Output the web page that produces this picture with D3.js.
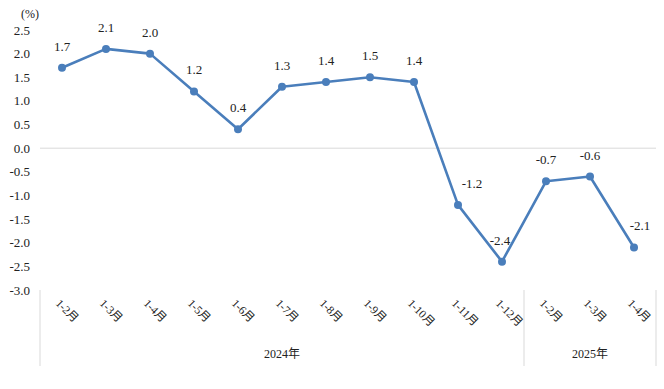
<!DOCTYPE html>
<html>
<head>
<meta charset="utf-8">
<script src="https://cdn.jsdelivr.net/npm/d3@7"></script>
<style>
  body { margin: 0; background: #fff; }
  text { font-family: "Liberation Serif", "Noto Sans CJK SC", serif; fill: #222; }
</style>
</head>
<body>
<svg id="chart" width="664" height="389"></svg>
<script>
// months (cumulative periods) and growth values
const months = ["1-2月","1-3月","1-4月","1-5月","1-6月","1-7月","1-8月","1-9月","1-10月","1-11月","1-12月","1-2月","1-3月","1-4月"]
const values = [1.7, 2.1, 2.0, 1.2, 0.4, 1.3, 1.4, 1.5, 1.4, -1.2, -2.4, -0.7, -0.6, -2.1]
const years = ["2024年", "2025年"]
const yearCounts = [11, 3]
const yTicks = [2.5, 2.0, 1.5, 1.0, 0.5, 0.0, -0.5, -1.0, -1.5, -2.0, -2.5, -3.0]

const svg = d3.select("#chart")
const plotLeft = 40, plotRight = 656, plotTop = 30, plotBottom = 290

const x = d3.scaleBand()
    .domain(d3.range(months.length))
    .range([plotLeft, plotRight])
const y = d3.scaleLinear()
    .domain([-3, 2.5])
    .range([plotBottom, plotTop])

// y labels
svg.append("g")
    .selectAll("text")
    .data(yTicks)
    .enter().append("text")
    .attr("x", 30)
    .attr("y", d => y(d) + 4.5)
    .attr("text-anchor", "end")
    .style("font-size", "13px")
    .text(d => d.toFixed(1))

svg.append("text")
    .attr("x", 21)
    .attr("y", 18)
    .style("font-size", "12px")
    .text("(%)")

// zero line
svg.append("line")
    .attr("x1", plotLeft).attr("x2", plotRight)
    .attr("y1", y(0)).attr("y2", y(0))
    .attr("stroke", "#d9d9d9")
    .attr("stroke-width", 1)

// separators for year groups
let bounds = [0]
yearCounts.forEach(c => bounds.push(bounds[bounds.length - 1] + c))
svg.append("g")
    .selectAll("line")
    .data(bounds)
    .enter().append("line")
    .attr("x1", i => i < months.length ? x(i) : plotRight)
    .attr("x2", i => i < months.length ? x(i) : plotRight)
    .attr("y1", plotBottom)
    .attr("y2", 366)
    .attr("stroke", "#d9d9d9")

// year labels
svg.append("g")
    .selectAll("text")
    .data(years)
    .enter().append("text")
    .attr("x", (d, i) => {
        const a = x(bounds[i])
        const b = bounds[i + 1] < months.length ? x(bounds[i + 1]) : plotRight
        return (a + b) / 2
    })
    .attr("y", 358)
    .attr("text-anchor", "middle")
    .style("font-size", "12px")
    .text(d => d)

// rotated month labels
svg.append("g")
    .selectAll("text")
    .data(months)
    .enter().append("text")
    .attr("transform", (d, i) => `translate(${x(i) + x.bandwidth() / 2 - 7},${plotBottom + 14}) rotate(45)`)
    .style("font-size", "11.5px")
    .text(d => d)

// line + markers
const line = d3.line()
    .x((d, i) => x(i) + x.bandwidth() / 2)
    .y(d => y(d))

svg.append("path")
    .datum(values)
    .attr("d", line)
    .attr("fill", "none")
    .attr("stroke", "#4a7ebb")
    .attr("stroke-width", 2.6)
    .attr("stroke-linejoin", "round")

svg.append("g")
    .selectAll("circle")
    .data(values)
    .enter().append("circle")
    .attr("cx", (d, i) => x(i) + x.bandwidth() / 2)
    .attr("cy", d => y(d))
    .attr("r", 4)
    .attr("fill", "#4a7ebb")

// value labels
const labelDx = [0,0,0,0,0,0,0,0,0,14,-2,0,0,6]
svg.append("g")
    .selectAll("text")
    .data(values)
    .enter().append("text")
    .attr("x", (d, i) => x(i) + x.bandwidth() / 2 + labelDx[i])
    .attr("y", d => y(d) - 17)
    .attr("text-anchor", "middle")
    .style("font-size", "13px")
    .text(d => d.toFixed(1))
</script>
</body>
</html>
